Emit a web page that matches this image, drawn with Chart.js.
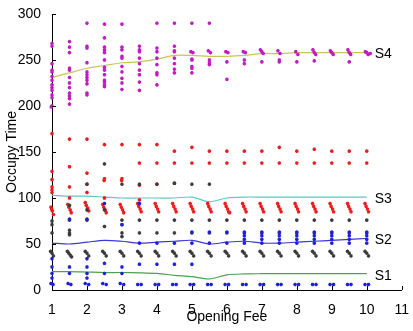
<!DOCTYPE html>
<html>
<head>
<meta charset="utf-8">
<script src="https://cdn.jsdelivr.net/npm/chart.js@4/dist/chart.umd.min.js"></script>
<style>
  html, body { margin: 0; padding: 0; background: #fff; }
  #wrap { width: 413px; height: 331px; }
</style>
</head>
<body>
<div id="wrap"><canvas id="chart"></canvas></div>
<script>
const fees = [1, 1.5, 2, 2.5, 3, 3.5, 4, 4.5, 5, 5.5, 6, 6.5, 7, 7.5, 8, 8.5, 9, 9.5, 10];
const xTicks = [1, 2, 3, 4, 5, 6, 7, 8, 9, 10, 11];
const yTicks = [0, 50, 100, 150, 200, 250, 300];

// mean curves
const s1Line = [20, 20, 19.5, 19, 19, 18.7, 18, 16, 14.5, 12, 16.5, 17.5, 17.7, 17.7, 17.7, 17.7, 17.7, 17.7, 17.7];
const s2Line = [51, 50, 52, 54, 53, 51, 52, 53, 54, 50, 52, 53, 51, 51, 52, 53, 54, 55, 56];
const s3Line = [103, 102, 102, 101, 100, 100, 100, 100, 101, 96, 100, 101, 101, 101, 101, 101, 101, 101, 101];
const s4Line = [231, 236, 241, 244, 247, 248, 251, 255, 255, 254, 254, 255, 257, 257, 258, 258, 258, 258, 258];

// samples [fee, time]
const s4Points = [
  [1,268],[1,265],[1,246],[1,239],[1,237],[1,232],[1,228],[1,223],[1,220],[1,217],[1,212],[1,209],[1,200],[0.98,199],
  [1.5,270],[1.5,264],[1.5,258],[1.5,241],[1.5,239],[1.5,231],[1.5,225],[1.5,220],[1.5,214],[1.5,211],[1.5,208],[1.5,202],
  [2,290],[2,265],[2,263],[2,247],[2,237],[2,234],[2,231],[2,228],[2,224],[2,214],[2,212],
  [2.5,289],[2.5,274],[2.5,264],[2.5,261],[2.5,258],[2.5,250],[2.5,242],[2.5,239],[2.5,234],[2.5,228],[2.5,226],[2.5,223],[2.5,221],
  [3,289],[3,264],[3,261],[3,254],[3,252],[3,243],[3,237],[3,230],[3,225],[3,218],
  [3.5,265],[3.5,261],[3.5,259],[3.5,252],[3.5,246],[3.5,239],[3.5,234],[3.5,226],[3.5,217],
  [4,290],[4,263],[4,259],[4,252],[4,245],[4,236],[4,234],[4,223],
  [4.5,290],[4.5,265],[4.5,260],[4.5,259],[4.5,252],[4.5,246],[4.5,240],[4.5,236],
  [5,290],[4.97,259],[5.03,258],[5,251],[5,250],[5,243],[5,241],[5,236],
  [5.5,290],[5.47,260],[5.53,258],[5.5,250],[5.5,247],[5.5,245],
  [5.97,259],[6.03,258],[6,248],[6,229],
  [6.47,259],[6.53,258],[6.5,250],[6.5,246],
  [6.96,261],[7,259],[7.04,257],[7,248],
  [7.46,260],[7.52,257],[7.5,250],[7.5,248],
  [7.97,259],[8.03,256],[8,248],
  [8.46,261],[8.5,258],[8.54,256],[8.5,249],
  [8.96,260],[9,258],[9.04,256],
  [9.46,261],[9.5,258],[9.54,256],[9.5,248],
  [9.96,259],[10,258],[10.04,256],[10.1,257]
];

const s3Points = [
  [1,170],[1,129],[1,120],[1,112],[1,109],[1,106],[0.97,90],[0.99,88],[1.01,86],[1.04,82],
  [1.5,164],[1.5,134],[1.5,112],[1.5,100],[1.45,93],[1.48,90],[1.52,87],[1.55,84],
  [2,164],[2,127],[2,115],[2,106],[1.95,95],[1.98,92],[2.02,89],[2.05,86],
  [2.5,158],[2.5,121],[2.49,119],[2.5,100],[2.45,93],[2.48,90],[2.52,87],[2.55,84],
  [3,158],[3,121],[2.99,119],[2.95,93],[2.98,90],[3.02,87],[3.05,84],
  [3.5,158],[3.5,138],[3.5,114],[3.5,98],[3.45,94],[3.48,91],[3.52,88],[3.55,85],
  [4,158],[4,138],[4,115],[3.95,94],[3.98,91],[4.02,88],[4.05,85],
  [4.5,151],[4.5,138],[4.5,116],[4.45,94],[4.48,91],[4.52,88],[4.55,85],
  [5,155],[5,138],[4.95,94],[4.98,91],[5.02,88],[5.05,85],
  [5.5,151],[5.5,138],[5.45,94],[5.48,91],[5.52,88],[5.55,85],
  [6,151],[6,138],[5.95,94],[5.98,91],[6.02,88],[6.05,85],[6.08,84],
  [6.5,151],[6.5,138],[6.45,94],[6.48,91],[6.52,88],[6.55,85],
  [7,151],[7,138],[6.95,94],[6.98,91],[7.02,88],[7.05,85],
  [7.5,155],[7.5,138],[7.45,94],[7.48,91],[7.52,88],[7.55,85],
  [8,151],[8,138],[7.95,94],[7.98,91],[8.02,88],[8.05,85],
  [8.5,153],[8.5,138],[8.45,94],[8.48,91],[8.52,88],[8.55,85],
  [9,151],[9,138],[8.95,94],[8.98,91],[9.02,88],[9.05,85],
  [9.5,151],[9.5,138],[9.45,94],[9.48,91],[9.52,88],[9.55,85],
  [10,151],[10,138],[9.95,94],[9.98,91],[10.02,88],[10.05,85]
];

const grayPoints = [
  [1,75],[1,71],[1,62],[0.96,42],[1,40],[1.04,37],
  [1.5,92],[1.5,76],[1.5,65],[1.5,62],[1.5,60],[1.44,42],[1.48,40],[1.52,38],[1.56,36],
  [2,115],[2,87],[2,76],[1.95,42],[2,40],[2.05,37],
  [2.5,137],[2.5,87],[2.5,69],[2.45,42],[2.5,40],[2.55,37],
  [3,115],[3,76],[3,71],[3,62],[3,58],[2.95,42],[3,40],[3.05,37],
  [3.5,115],[3.5,76],[3.5,62],[3.45,42],[3.5,40],[3.55,37],
  [4,115],[4,76],[4,62],[3.95,42],[4,40],[4.05,37],
  [4.5,116],[4.5,76],[4.5,62],[4.45,42],[4.5,40],[4.55,37],
  [5,115],[5,76],[5,62],[4.95,42],[5,40],[5.05,37],
  [5.5,115],[5.5,76],[5.5,62],[5.45,42],[5.5,40],[5.55,37],
  [6,76],[6,62],[5.95,42],[6,40],[6.05,37],
  [6.5,76],[6.5,62],[6.45,42],[6.5,40],[6.55,37],
  [7,76],[7,62],[6.95,42],[7,40],[7.05,37],
  [7.5,76],[7.5,62],[7.45,42],[7.5,40],[7.55,37],
  [8,76],[8,62],[7.95,42],[8,40],[8.05,37],
  [8.5,76],[8.5,62],[8.45,42],[8.5,40],[8.55,37],
  [9,76],[9,62],[8.95,42],[9,40],[9.05,37],
  [9.5,76],[9.5,62],[9.45,42],[9.5,40],[9.55,37],
  [10,76],[10,62],[9.95,42],[10,40],[10.05,37]
];

const s2Points = [
  [1,34],[1,25],[1,18],[1,13],[0.97,7],[1.03,6],
  [1.5,77],[1.5,25],[1.5,18],[1.46,7],[1.54,6],
  [2,77],[2,34],[2,25],[2,18],[2,13],[1.95,7],[2.05,6],
  [2.5,94],[2.5,29],[2.5,18],[2.45,7],[2.55,6],
  [3,71],[3,25],[3,18],[2.95,7],[3.05,6],
  [3.5,94],[3.5,51],[3.5,28],[3.45,6],[3.55,6],
  [4,51],[4,28],[3.95,6],[4.05,6],
  [4.5,51],[4.5,28],[4.45,6],[4.55,6],
  [5,63],[5,51],[5,28],[4.95,6],[5.05,6],
  [5.5,63],[5.5,51],[5.45,6],[5.55,6],
  [6,63],[6,51],[5.95,6],[6.05,6],
  [6.5,63],[6.5,59],[6.5,55],[6.5,51],[6.45,6],[6.55,6],
  [7,63],[7,59],[7,55],[7,51],[6.95,6],[7.05,6],
  [7.5,63],[7.5,59],[7.5,55],[7.5,51],[7.45,6],[7.55,6],
  [8,63],[8,59],[8,55],[8,51],[7.95,6],[8.05,6],
  [8.5,63],[8.5,59],[8.5,55],[8.5,51],[8.45,6],[8.55,6],
  [9,63],[9,59],[9,55],[9,51],[8.95,6],[9.05,6],
  [9.5,63],[9.5,59],[9.5,55],[9.5,51],[9.45,6],[9.55,6],
  [10,63],[10,59],[10,55],[10,51],[9.95,6],[10.05,6]
];

const lineNames = ['S1', 'S2', 'S3', 'S4'];
const lineSeries = [s1Line, s2Line, s3Line, s4Line];

const FONT = '"Liberation Sans", Arial, Helvetica, sans-serif';

const toXY = arr => arr.map(p => ({ x: p[0], y: p[1] }));
const lineXY = vals => fees.map((f, i) => ({ x: f, y: vals[i] }));

function scatterSet(pts, color) {
  return {
    type: 'scatter',
    data: toXY(pts),
    pointStyle: 'star',
    pointRadius: 1.8,
    borderWidth: 1.1,
    borderColor: color,
    backgroundColor: color,
    clip: false
  };
}

function lineSet(vals, color) {
  return {
    type: 'line',
    data: lineXY(vals),
    borderColor: color,
    borderWidth: 1.2,
    pointRadius: 0,
    tension: 0.3,
    fill: false,
    clip: false
  };
}

// MATLAB style inward ticks + curve names at the right end
const insideTicks = {
  id: 'insideTicks',
  afterDraw(chart) {
    const { ctx, scales: { x, y } } = chart;
    ctx.save();
    ctx.strokeStyle = '#000';
    ctx.lineWidth = 1;
    xTicks.forEach(v => {
      const px = Math.round(x.getPixelForValue(v)) + 0.5;
      ctx.beginPath();
      ctx.moveTo(px, y.bottom);
      ctx.lineTo(px, y.bottom - 4);
      ctx.stroke();
    });
    yTicks.forEach(v => {
      const py = Math.round(y.getPixelForValue(v)) + 0.5;
      ctx.beginPath();
      ctx.moveTo(x.left, py);
      ctx.lineTo(x.left + 4, py);
      ctx.stroke();
    });
    ctx.fillStyle = '#000';
    ctx.font = '14px ' + FONT;
    ctx.textBaseline = 'middle';
    ctx.textAlign = 'left';
    lineNames.forEach((name, i) => {
      const vals = lineSeries[i];
      const last = vals[vals.length - 1];
      ctx.fillText(name, x.getPixelForValue(fees[fees.length - 1]) + 8, y.getPixelForValue(last) + 2);
    });
    ctx.restore();
  }
};

new Chart(document.getElementById('chart'), {
  data: {
    datasets: [
      scatterSet(s2Points, '#1f1fe0'),
      scatterSet(grayPoints, '#3c3c3c'),
      scatterSet(s3Points, '#ee1c1c'),
      scatterSet(s4Points, '#c21bc2'),
      lineSet(s1Line, '#4f9f4f'),
      lineSet(s2Line, '#3a3ad0'),
      lineSet(s3Line, '#5ec8c8'),
      lineSet(s4Line, '#c8c456')
    ]
  },
  options: {
    responsive: true,
    maintainAspectRatio: false,
    animation: false,
    layout: { padding: { left: 0, top: 14, right: 8, bottom: 0 } },
    plugins: {
      legend: { display: false },
      tooltip: { enabled: false }
    },
    scales: {
      x: {
        type: 'linear',
        min: 1,
        max: 11,
        afterFit: s => { s.height = 41; },
        afterBuildTicks: s => { s.ticks = xTicks.map(v => ({ value: v })); },
        grid: { display: false },
        border: { display: true, color: '#000', width: 1 },
        ticks: { color: '#000', padding: 4, font: { size: 14, family: FONT } },
        title: { display: true, text: 'Opening Fee', color: '#000', font: { size: 14, family: FONT }, padding: { top: 0, bottom: 5 } }
      },
      y: {
        min: 0,
        max: 300,
        afterFit: s => { s.width = 52; },
        afterBuildTicks: s => { s.ticks = yTicks.map(v => ({ value: v })); },
        grid: { display: false },
        border: { display: true, color: '#000', width: 1 },
        ticks: { color: '#000', padding: 3, font: { size: 14, family: FONT } },
        title: { display: true, text: 'Occupy Time', color: '#000', font: { size: 14, family: FONT }, padding: { top: 4, bottom: 0 } }
      }
    }
  },
  plugins: [insideTicks]
});
</script>
</body>
</html>
